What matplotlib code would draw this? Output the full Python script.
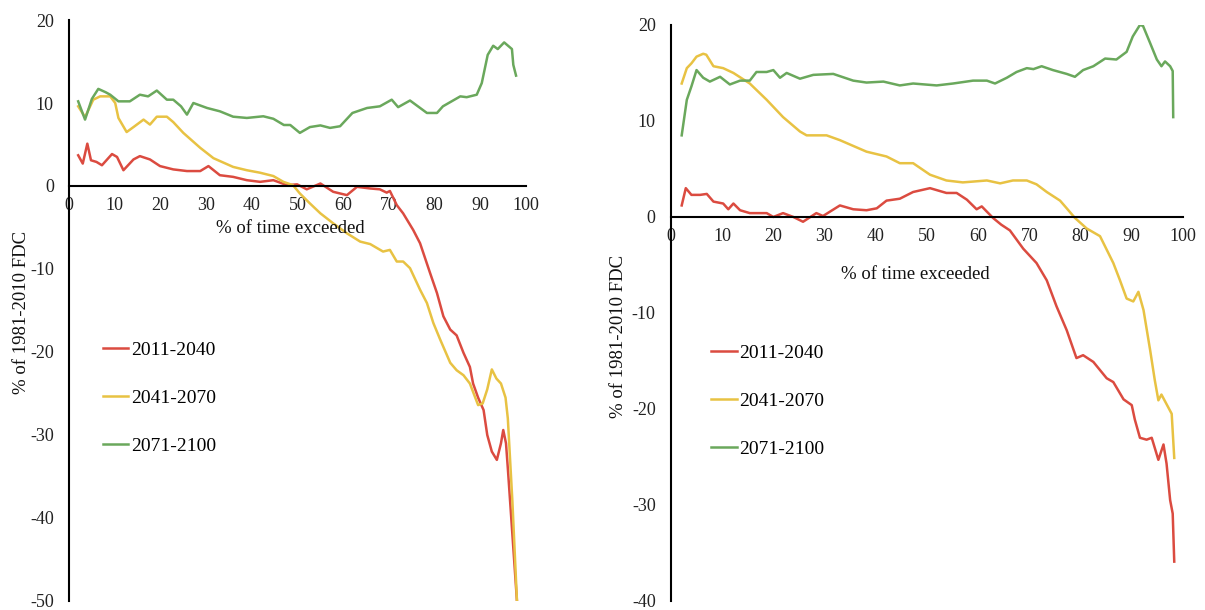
import matplotlib.pyplot as plt

plt.rcParams["font.family"] = ["Liberation Serif", "DejaVu Serif"]
plt.rcParams["axes.unicode_minus"] = False

# Change in flow duration curve vs 1981-2010, left panel
left_red_x = [2, 3, 4, 4.8, 6, 7.2, 9.4, 10.5, 11.9, 14.1, 15.5, 17.7, 19.9, 22.8, 25.8, 28.7,
              30.5, 33, 35.9, 38.9, 41.8, 44.7, 47.7, 49.9, 52, 55, 57.8, 60.8, 63, 65.9, 68,
              69.5, 70.2, 71.7, 73.1, 75.3, 76.8, 79, 80.5, 81.9, 83.4, 84.8, 86.3, 87.7, 88.4,
              89.5, 90.7, 91.5, 92.5, 93.6, 94.5, 95, 95.6, 96, 96.5, 97, 97.5, 98]
left_red_y = [3.7, 2.7, 5.1, 3.1, 2.9, 2.5, 3.85, 3.5, 1.9, 3.2, 3.6, 3.2, 2.4, 2.0, 1.8, 1.8,
              2.4, 1.3, 1.1, 0.7, 0.5, 0.7, 0.1, 0.2, -0.4, 0.3, -0.7, -1.1, -0.1, -0.3, -0.4,
              -0.8, -0.6, -2.3, -3.3, -5.3, -6.9, -10.5, -12.9, -15.7, -17.3, -18.0, -20.1, -21.8, -23.8,
              -25.5, -27, -30, -32, -33, -31, -29.4, -31, -34, -38, -42, -46, -50]

left_yellow_x = [2, 3.5, 5.3, 6.8, 9, 10.1, 10.8, 12.6, 14.1, 16.3, 17.7, 19.2, 21.4, 22.8, 25,
                 28.7, 31.6, 35.9, 38.9, 41.8, 44.7, 46.9, 49, 50.5, 52.7, 55, 57.8, 60.8, 63.7,
                 65.9, 68.7, 70.2, 71.7, 73.1, 74.6, 76.8, 78.3, 79.7, 81.2, 83.4, 84.8, 86.3,
                 87.7, 89.5, 90.5, 91.5, 92.5, 93.5, 94.5, 95.5, 96, 96.5, 97, 97.5, 98]
left_yellow_y = [9.6, 8.3, 10.4, 10.8, 10.8, 10.0, 8.2, 6.5, 7.1, 8.0, 7.4, 8.35, 8.35, 7.7, 6.4,
                 4.6, 3.35, 2.3, 1.9, 1.6, 1.2, 0.5, 0.1, -0.9, -2.1, -3.3, -4.5, -5.7, -6.7,
                 -7.0, -7.9, -7.7, -9.1, -9.1, -9.9, -12.5, -14.1, -16.5, -18.5, -21.3, -22.2, -22.8,
                 -23.8, -26.4, -26.2, -24.5, -22.1, -23.2, -23.8, -25.5, -28, -33, -38, -44, -50]

left_green_x = [2, 3.5, 5, 6.4, 8, 9, 10.8, 13.3, 15.5, 17.3, 19.2, 21.4, 22.8, 24.5, 25.8, 27.2,
                30.2, 33, 35.9, 38.9, 42.5, 44.7, 47, 48.4, 50.5, 52.7, 55, 57.1, 59.3, 62, 65.2,
                68, 70.6, 72, 74.6, 78.3, 80.5, 81.8, 85.6, 87, 89.2, 90.3, 91.6, 92.8, 93.8,
                95.2, 96.9, 97.2, 97.8]
left_green_y = [10.2, 8.0, 10.5, 11.7, 11.3, 11.0, 10.2, 10.2, 11.0, 10.8, 11.5, 10.4, 10.4, 9.6,
                8.6, 10.0, 9.4, 9.0, 8.35, 8.2, 8.4, 8.1, 7.35, 7.35, 6.4, 7.1, 7.3, 7.0, 7.2, 8.8,
                9.4, 9.6, 10.4, 9.5, 10.3, 8.8, 8.8, 9.6, 10.8, 10.7, 11.0, 12.4, 15.8, 16.9, 16.5,
                17.3, 16.5, 14.6, 13.3]

# right panel
right_red_x = [2.1, 2.9, 4, 5.7, 7, 8.3, 10.2, 11.2, 12.2, 13.5, 15.4, 18.7, 20, 21.9, 23.9, 25.8,
               28.4, 29.7, 33, 35.6, 38.2, 40.2, 42.1, 44.7, 47.3, 50.6, 53.8, 55.8, 57.8, 59.7,
               60.7, 62.9, 64.5, 66.2, 68.8, 71.4, 73.4, 75.3, 77.3, 79.2, 80.5, 82.5, 85.1, 86.4,
               88.4, 90, 90.6, 91.6, 92.9, 93.9, 95.2, 96.2, 96.8, 97.5, 98, 98.3]
right_red_y = [1.2, 3.0, 2.3, 2.3, 2.4, 1.6, 1.4, 0.8, 1.4, 0.7, 0.4, 0.4, 0.0, 0.4, 0.0, -0.5,
               0.4, 0.1, 1.2, 0.8, 0.7, 0.9, 1.7, 1.9, 2.6, 3.0, 2.5, 2.5, 1.8, 0.8,
               1.1, -0.1, -0.8, -1.4, -3.3, -4.8, -6.6, -9.3, -11.8, -14.7, -14.4, -15.1, -16.8, -17.2,
               -19.0, -19.6, -21.1, -23.0, -23.2, -23.0, -25.3, -23.7, -25.7, -29.5, -30.9, -35.9]

right_yellow_x = [2.1, 3.1, 4, 5, 6.3, 6.9, 8.3, 10.2, 12.2, 15.4, 18.7, 21.9, 25.2, 26.5, 30.4,
                  33, 38.2, 42.1, 44.7, 47.3, 50.6, 53.8, 57, 61.7, 64.3, 66.8, 69.5, 71.4, 73.4,
                  76, 77.3, 78.9, 81.2, 83.8, 86.4, 87.7, 89, 90.3, 91.3, 92.3, 93.6, 94.5, 95.2,
                  95.8, 96.9, 97.8, 98.3]
right_yellow_y = [13.9, 15.5, 16.0, 16.7, 17.0, 16.9, 15.7, 15.5, 15.0, 13.9, 12.2, 10.4, 8.9, 8.5, 8.5,
                  8.0, 6.8, 6.3, 5.6, 5.6, 4.4, 3.8, 3.6, 3.8, 3.5, 3.8, 3.8, 3.4, 2.6,
                  1.7, 0.9, -0.1, -1.2, -2.0, -4.8, -6.6, -8.5, -8.8, -7.8, -9.7, -13.9, -17.0, -19.1,
                  -18.5, -19.6, -20.5, -25.1]

right_green_x = [2.1, 3.1, 4, 5, 6.3, 7.6, 9.6, 11.5, 13.5, 15.4, 16.7, 18.7, 20, 21.3, 22.6, 25.2,
                 27.8, 31.7, 35.6, 38.2, 41.5, 44.7, 47.3, 51.9, 55.1, 59, 61.7, 63.3, 65.6, 67.5,
                 69.5, 70.8, 72.4, 74.6, 77.3, 78.9, 80.5, 82.5, 84.8, 87, 89, 90.2, 91.6, 92.2,
                 93.6, 94.9, 95.8, 96.5, 97.5, 98, 98.1]
right_green_y = [8.5, 12.2, 13.6, 15.3, 14.5, 14.1, 14.6, 13.8, 14.2, 14.2, 15.1, 15.1, 15.3, 14.5, 15.0, 14.4,
                 14.8, 14.9, 14.2, 14.0, 14.1, 13.7, 13.9, 13.7, 13.9, 14.2, 14.2, 13.9, 14.5, 15.1,
                 15.5, 15.4, 15.7, 15.3, 14.9, 14.6, 15.3, 15.7, 16.5, 16.4, 17.2, 18.8, 20.0, 19.9,
                 18.1, 16.4, 15.7, 16.2, 15.7, 15.2, 10.4]

labels = ["2011-2040", "2041-2070", "2071-2100"]
colors = ["#DB4B40", "#E8C243", "#6AA85C"]
x_ticks = list(range(0, 101, 10))

panels = [
    dict(rect=[0.0573, 0.0148, 0.3793, 0.9524], ylim=(-50, 20),
         series=[(left_red_x, left_red_y), (left_yellow_x, left_yellow_y), (left_green_x, left_green_y)],
         xlabel_pos=(48.4, -5.1), ylabel_pos=(-0.085, 0.497), legend_pos=(0.074, 0.349)),
    dict(rect=[0.5568, 0.0148, 0.4249, 0.9443], ylim=(-40, 20),
         series=[(right_red_x, right_red_y), (right_yellow_x, right_yellow_y), (right_green_x, right_green_y)],
         xlabel_pos=(47.7, -6.0), ylabel_pos=(-0.085, 0.46), legend_pos=(0.079, 0.347)),
]

fig = plt.figure(figsize=(12.05, 6.1), dpi=100)

for p in panels:
    ax = fig.add_axes(p["rect"])
    for (xs, ys), lab, col in zip(p["series"], labels, colors):
        ax.plot(xs, ys, color=col, lw=1.8, label=lab, solid_joinstyle="round")

    ax.set_xlim(0, 100)
    ax.set_ylim(*p["ylim"])
    ax.set_xticks(x_ticks)
    ax.set_yticks(range(p["ylim"][0], p["ylim"][1] + 1, 10))

    # axes cross at zero like the Excel original
    ax.spines["left"].set_position(("data", 0))
    ax.spines["bottom"].set_position(("data", 0))
    ax.spines["top"].set_visible(False)
    ax.spines["right"].set_visible(False)
    ax.spines["left"].set_linewidth(1.5)
    ax.spines["bottom"].set_linewidth(1.5)
    ax.tick_params(axis="x", length=0, pad=8, labelsize=13, colors="#222222")
    ax.tick_params(axis="y", length=0, pad=11, labelsize=13, colors="#222222")

    ax.text(p["xlabel_pos"][0], p["xlabel_pos"][1], "% of time exceeded",
            ha="center", va="center", fontsize=13.5, color="#111111")
    ax.set_ylabel("% of 1981-2010 FDC", fontsize=13.5, color="#111111")
    ax.yaxis.set_label_coords(*p["ylabel_pos"])

    ax.legend(loc="center left", bbox_to_anchor=p["legend_pos"], frameon=False,
              fontsize=14, handlelength=1.3, handletextpad=0.15, labelspacing=1.55,
              borderpad=0, borderaxespad=0)

fig.savefig("out.png", dpi=100)
